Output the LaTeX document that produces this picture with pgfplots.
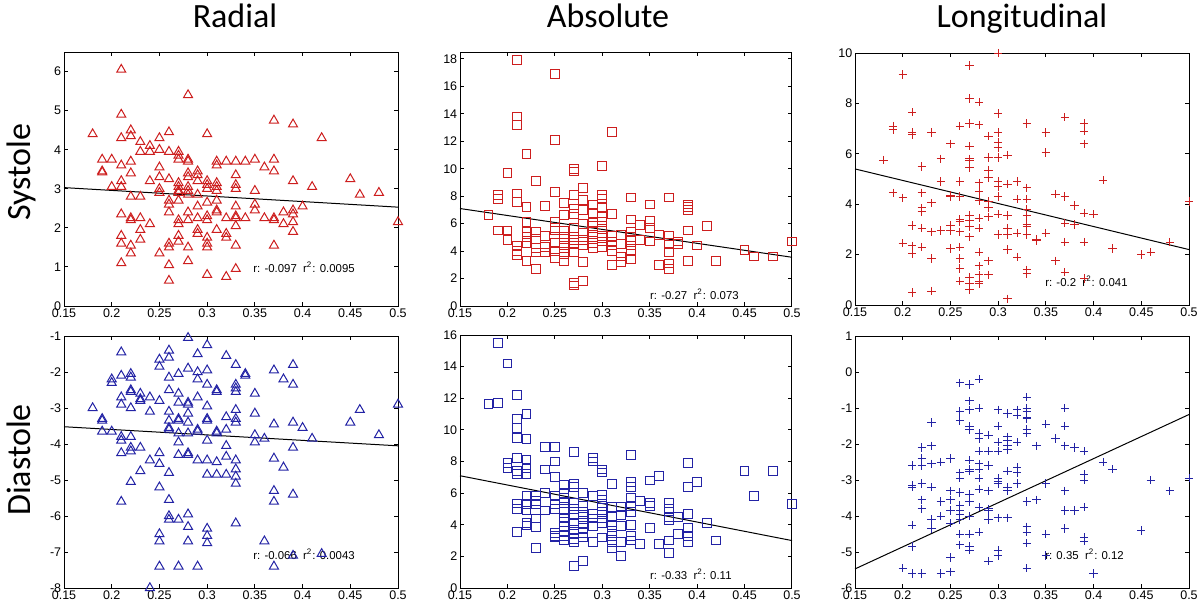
\documentclass[border=0pt]{standalone}
\usepackage{fontspec}
\setmainfont{Liberation Sans}
\newfontfamily\titlefont{Carlito}
\usepackage{pgfplots}
\pgfplotsset{compat=1.18}
\definecolor{mred}{RGB}{205,30,30}
\definecolor{mblue}{RGB}{35,35,165}
\pgfplotsset{
  panel/.style={
    scale only axis,
    clip=false,
    xmin=0.15, xmax=0.5,
    xtick={0.15,0.2,0.25,0.3,0.35,0.4,0.45,0.5},
    xticklabels={0.15,0.2,0.25,0.3,0.35,0.4,0.45,0.5},
    tick align=inside,
    xtick pos=both, ytick pos=both,
    major tick length=2pt,
    every tick/.style={black, line width=0.5pt},
    axis line style={black, line width=0.5pt},
    tick label style={font=\fontsize{6.25}{7.5}\selectfont, black},
    /pgf/number format/assume math mode=true,
    yticklabel style={inner sep=1.2pt},
    xticklabel style={inner sep=1.2pt},
  },
  redtri/.style={only marks, color=mred, mark=triangle, mark size=2.6pt, mark options={draw=mred, fill=none, line width=0.5pt}},
  redsq/.style={only marks, color=mred, mark=square, mark size=2.2pt, mark options={draw=mred, fill=none, line width=0.5pt}},
  redplus/.style={only marks, color=mred, mark=+, mark size=2.1pt, mark options={draw=mred, line width=0.5pt}},
  bluetri/.style={only marks, color=mblue, mark=triangle, mark size=2.6pt, mark options={draw=mblue, fill=none, line width=0.5pt}},
  bluesq/.style={only marks, color=mblue, mark=square, mark size=2.2pt, mark options={draw=mblue, fill=none, line width=0.5pt}},
  blueplus/.style={only marks, color=mblue, mark=+, mark size=2.1pt, mark options={draw=mblue, line width=0.5pt}},
  fit/.style={black, line width=0.5pt, no marks},
}
\newcommand{\ann}{\fontsize{5.7}{6.8}\selectfont}
\begin{document}
\begin{tikzpicture}
\useasboundingbox (0,0) rectangle (600pt,-303.5pt);
% titles
\node[anchor=base] at (117.5pt,-13.5pt) {\titlefont\fontsize{17}{20}\selectfont Radial};
\node[anchor=base] at (304pt,-13.5pt) {\titlefont\fontsize{17}{20}\selectfont Absolute};
\node[anchor=base] at (511pt,-13.5pt) {\titlefont\fontsize{17}{20}\selectfont Longitudinal};
\node[anchor=base, rotate=90] at (15pt,-86pt) {\titlefont\fontsize{17}{20}\selectfont Systole};
\node[anchor=base, rotate=90] at (15pt,-230pt) {\titlefont\fontsize{17}{20}\selectfont Diastole};

% ---------- Radial systole
\begin{axis}[panel, at={(32pt,-153pt)}, anchor=south west, width=167pt, height=127pt,
  ymin=0, ymax=6.5, ytick={0,1,2,3,4,5,6}]
\addplot[redtri] coordinates {
(0.18,4.4)
(0.19,3.75)(0.19,3.45)(0.19,3.42)
(0.2,3.75)(0.2,3.05)
(0.21,6.05)(0.21,4.9)(0.21,4.3)(0.21,3.6)(0.21,3.2)(0.21,3.05)(0.21,2.35)(0.21,1.8)(0.21,1.6)(0.21,1.1)
(0.22,4.5)(0.22,4.35)(0.22,3.7)(0.22,3.4)(0.22,2.8)(0.22,2.25)(0.22,2.2)(0.22,1.55)(0.22,1.35)
(0.23,4.2)(0.23,3.95)(0.23,2.8)(0.23,2.25)(0.23,1.95)(0.23,1.7)
(0.24,4.1)(0.24,3.95)(0.24,3.2)(0.24,2.1)
(0.25,4.3)(0.25,4.0)(0.25,3.55)(0.25,3.3)(0.25,3.0)(0.25,2.9)(0.25,1.35)
(0.26,4.45)(0.26,3.95)(0.26,3.25)(0.26,2.7)(0.26,2.6)(0.26,2.4)(0.26,1.6)(0.26,1.5)(0.26,1.05)(0.26,0.65)
(0.27,3.95)(0.27,3.85)(0.27,3.75)(0.27,3.15)(0.27,3.05)(0.27,2.95)(0.27,2.9)(0.27,2.7)(0.27,2.2)(0.27,2.1)(0.27,1.8)(0.27,1.65)
(0.28,5.4)(0.28,3.75)(0.28,3.7)(0.28,3.4)(0.28,3.3)(0.28,3.05)(0.28,2.95)(0.28,2.85)(0.28,2.4)(0.28,2.2)(0.28,1.5)(0.28,1.15)
(0.29,3.45)(0.29,3.35)(0.29,3.2)(0.29,2.85)(0.29,2.55)(0.29,2.25)(0.29,1.95)(0.29,1.85)
(0.3,4.4)(0.3,3.2)(0.3,3.1)(0.3,3.0)(0.3,2.65)(0.3,2.3)(0.3,2.2)(0.3,1.75)(0.3,1.6)(0.3,1.5)(0.3,0.8)
(0.31,3.7)(0.31,3.6)(0.31,3.15)(0.31,3.05)(0.31,2.95)(0.31,2.7)(0.31,2.45)(0.31,2.4)(0.31,1.95)
(0.32,3.7)(0.32,2.25)(0.32,1.85)(0.32,1.75)(0.32,0.75)
(0.33,3.7)(0.33,3.35)(0.33,3.1)(0.33,3.0)(0.33,2.55)(0.33,2.3)(0.33,2.25)(0.33,2.05)(0.33,1.55)(0.33,0.95)
(0.34,3.7)(0.34,2.25)
(0.35,3.75)(0.35,2.95)(0.35,2.6)(0.35,2.45)
(0.36,3.55)(0.36,2.25)
(0.37,4.75)(0.37,3.75)(0.37,3.45)(0.37,2.25)(0.37,2.2)(0.37,1.55)
(0.38,2.4)(0.38,2.1)
(0.39,4.65)(0.39,3.2)(0.39,2.45)(0.39,2.35)(0.39,2.15)(0.39,1.9)
(0.4,2.55)(0.41,3.05)(0.42,4.3)(0.45,3.25)(0.46,2.85)(0.48,2.9)(0.5,2.15)
};
\addplot[fit] coordinates {(0.15,3.03) (0.5,2.53)};
\node[anchor=west, inner sep=0pt] at (axis cs:0.348,1) {\ann r: -0.097\ \ r\textsuperscript{2}: 0.0095};
\end{axis}

% ---------- Absolute systole
\begin{axis}[panel, at={(230pt,-153pt)}, anchor=south west, width=166pt, height=127pt,
  ymin=0, ymax=18.5, ytick={0,2,4,6,8,10,12,14,16,18}]
\addplot[redsq] coordinates {
(0.18,6.6)
(0.19,8.1)(0.19,7.8)(0.19,5.5)
(0.2,9.7)(0.2,5.5)(0.2,4.8)
(0.21,17.9)(0.21,13.8)(0.21,13.2)(0.21,8.2)(0.21,7.6)(0.21,4.4)(0.21,4.0)(0.21,3.7)
(0.22,11.1)(0.22,7.2)(0.22,6.1)(0.22,5.4)(0.22,5.0)(0.22,4.6)(0.22,3.3)
(0.23,9.1)(0.23,5.4)(0.23,4.9)(0.23,4.2)(0.23,3.9)(0.23,2.7)
(0.24,7.3)(0.24,5.1)(0.24,4.3)(0.24,3.9)
(0.25,16.9)(0.25,12.1)(0.25,8.3)(0.25,6.1)(0.25,5.7)(0.25,5.5)(0.25,4.6)(0.25,4.0)(0.25,3.5)
(0.26,7.5)(0.26,6.6)(0.26,5.5)(0.26,5.0)(0.26,4.6)(0.26,4.2)(0.26,3.8)(0.26,3.3)
(0.27,10.0)(0.27,9.8)(0.27,8.1)(0.27,7.1)(0.27,6.7)(0.27,5.7)(0.27,5.0)(0.27,4.8)(0.27,4.6)(0.27,3.9)(0.27,1.7)(0.27,1.5)
(0.28,8.6)(0.28,7.7)(0.28,7.0)(0.28,6.0)(0.28,5.3)(0.28,4.8)(0.28,4.4)(0.28,3.2)(0.28,1.8)
(0.29,7.4)(0.29,6.7)(0.29,6.1)(0.29,5.8)(0.29,5.4)(0.29,5.0)(0.29,4.6)(0.29,4.2)
(0.3,10.2)(0.3,8.1)(0.3,7.8)(0.3,7.2)(0.3,6.5)(0.3,6.1)(0.3,5.6)(0.3,5.1)(0.3,4.7)(0.3,4.3)
(0.31,12.7)(0.31,6.7)(0.31,5.1)(0.31,4.7)(0.31,4.4)(0.31,4.0)(0.31,3.0)
(0.32,5.2)(0.32,4.5)(0.32,3.6)(0.32,3.2)
(0.33,7.9)(0.33,6.3)(0.33,5.4)(0.33,5.0)(0.33,4.8)(0.33,4.4)(0.33,4.0)(0.33,3.4)
(0.34,5.9)(0.34,4.8)
(0.35,7.4)(0.35,6.2)(0.35,5.7)(0.35,4.7)
(0.36,5.2)(0.36,3.0)
(0.37,7.9)(0.37,5.1)(0.37,4.6)(0.37,3.9)(0.37,3.1)(0.37,2.7)
(0.38,4.7)(0.38,4.5)
(0.39,7.4)(0.39,7.2)(0.39,7.0)(0.39,5.5)(0.39,3.3)
(0.4,4.4)(0.41,5.8)(0.42,3.3)(0.45,4.1)(0.46,3.6)(0.48,3.6)(0.5,4.7)
};
\addplot[fit] coordinates {(0.15,7.1) (0.5,3.55)};
\node[anchor=west, inner sep=0pt] at (axis cs:0.35,0.85) {\ann r: -0.27\ \ r\textsuperscript{2}: 0.073};
\end{axis}

% ---------- Longitudinal systole
\begin{axis}[panel, at={(427.5pt,-152.5pt)}, anchor=south west, width=167pt, height=126pt,
  ymin=0, ymax=10, ytick={0,2,4,6,8,10}]
\addplot[redplus] coordinates {
(0.18,5.75)
(0.19,7.1)(0.19,6.95)(0.19,4.45)
(0.2,9.15)(0.2,4.25)(0.2,2.45)
(0.21,7.65)(0.21,6.85)(0.21,6.75)(0.21,3.15)(0.21,2.35)(0.21,2.05)(0.21,0.5)
(0.22,5.5)(0.22,4.45)(0.22,3.85)(0.22,3.7)(0.22,3.05)(0.22,2.3)
(0.23,6.85)(0.23,4.05)(0.23,2.9)(0.23,1.85)(0.23,0.55)
(0.24,5.8)(0.24,4.9)(0.24,2.95)
(0.25,6.4)(0.25,4.3)(0.25,4.35)(0.25,3.15)(0.25,2.95)(0.25,2.25)
(0.26,7.1)(0.26,4.9)(0.26,4.3)(0.26,3.4)(0.26,3.3)(0.26,2.9)(0.26,2.3)(0.26,1.85)(0.26,1.45)(0.26,0.95)
(0.27,9.5)(0.27,8.2)(0.27,7.2)(0.27,6.3)(0.27,5.8)(0.27,5.75)(0.27,5.45)(0.27,3.55)(0.27,3.35)(0.27,3.1)(0.27,2.7)(0.27,1.1)(0.27,0.85)(0.27,0.6)
(0.28,8.05)(0.28,7.15)(0.28,4.85)(0.28,4.5)(0.28,4.15)(0.28,3.45)(0.28,3.05)(0.28,2.1)(0.28,1.55)(0.28,1.2)(0.28,0.95)(0.28,0.85)
(0.29,6.7)(0.29,5.85)(0.29,5.35)(0.29,5.05)(0.29,4.1)(0.29,3.85)(0.29,3.5)(0.29,1.75)(0.29,1.2)
(0.3,10.0)(0.3,7.6)(0.3,6.85)(0.3,6.45)(0.3,6.25)(0.3,5.85)(0.3,4.9)(0.3,4.7)(0.3,4.3)(0.3,3.6)(0.3,2.8)
(0.31,5.95)(0.31,4.8)(0.31,3.55)(0.31,3.05)(0.31,2.8)(0.31,2.2)(0.31,0.25)
(0.32,4.9)(0.32,4.2)(0.32,2.85)(0.32,1.9)
(0.33,7.2)(0.33,4.65)(0.33,4.2)(0.33,3.8)(0.33,3.55)(0.33,3.2)(0.33,3.1)(0.33,2.8)(0.33,1.4)(0.33,1.25)
(0.34,2.55)(0.34,2.6)
(0.35,6.85)(0.35,6.05)(0.35,2.85)
(0.36,4.4)(0.36,1.75)
(0.37,7.45)(0.37,4.3)(0.37,3.25)(0.37,2.5)(0.37,1.3)
(0.38,3.95)(0.38,3.2)
(0.39,7.2)(0.39,6.9)(0.39,6.4)(0.39,3.65)(0.39,2.5)(0.39,1.05)
(0.4,3.6)(0.41,4.95)(0.42,2.25)(0.45,2.0)(0.46,2.1)(0.48,2.5)(0.5,4.1)
};
\addplot[fit] coordinates {(0.15,5.4) (0.5,2.2)};
\node[anchor=west, inner sep=0pt] at (axis cs:0.349,0.95) {\ann r: -0.2\ \ r\textsuperscript{2}: 0.041};
\end{axis}

% ---------- Radial diastole
\begin{axis}[panel, at={(32pt,-294pt)}, anchor=south west, width=167pt, height=126pt,
  ymin=-8, ymax=-1, ytick={-8,-7,-6,-5,-4,-3,-2,-1}]
\addplot[bluetri] coordinates {
(0.18,-3.0)
(0.19,-3.3)(0.19,-3.35)(0.19,-3.65)
(0.2,-2.2)(0.2,-2.3)(0.2,-3.65)
(0.21,-1.45)(0.21,-2.1)(0.21,-2.7)(0.21,-2.9)(0.21,-3.8)(0.21,-3.9)(0.21,-4.25)(0.21,-5.6)
(0.22,-2.05)(0.22,-2.15)(0.22,-2.5)(0.22,-2.55)(0.22,-3.0)(0.22,-3.8)(0.22,-4.1)(0.22,-4.2)(0.22,-5.05)
(0.23,-2.6)(0.23,-2.75)(0.23,-2.8)(0.23,-4.1)(0.23,-4.75)
(0.24,-2.7)(0.24,-3.1)(0.24,-4.45)(0.24,-8.0)
(0.25,-1.65)(0.25,-1.85)(0.25,-2.8)(0.25,-4.25)(0.25,-4.55)(0.25,-5.2)(0.25,-6.5)(0.25,-6.7)(0.25,-7.4)
(0.26,-1.4)(0.26,-1.6)(0.26,-2.15)(0.26,-2.5)(0.26,-3.1)(0.26,-3.35)(0.26,-3.55)(0.26,-3.6)(0.26,-4.8)(0.26,-5.55)(0.26,-6.0)(0.26,-6.1)
(0.27,-2.05)(0.27,-2.6)(0.27,-2.85)(0.27,-3.3)(0.27,-3.35)(0.27,-3.7)(0.27,-3.95)(0.27,-4.3)(0.27,-6.1)(0.27,-7.4)
(0.28,-1.05)(0.28,-1.9)(0.28,-2.85)(0.28,-2.9)(0.28,-3.15)(0.28,-3.4)(0.28,-3.7)(0.28,-4.25)(0.28,-4.3)(0.28,-5.95)(0.28,-6.3)(0.28,-6.7)
(0.29,-1.5)(0.29,-2.0)(0.29,-2.2)(0.29,-2.7)(0.29,-3.6)(0.29,-3.65)(0.29,-4.45)(0.29,-7.4)
(0.3,-1.25)(0.3,-1.95)(0.3,-2.35)(0.3,-2.95)(0.3,-3.3)(0.3,-3.35)(0.3,-3.9)(0.3,-4.45)(0.3,-4.85)(0.3,-6.35)(0.3,-6.55)(0.3,-6.75)
(0.31,-2.5)(0.31,-2.55)(0.31,-3.65)(0.31,-3.7)(0.31,-4.5)(0.31,-4.85)
(0.32,-1.55)(0.32,-3.25)(0.32,-3.6)(0.32,-4.05)(0.32,-4.35)(0.32,-4.85)
(0.33,-1.8)(0.33,-2.35)(0.33,-2.45)(0.33,-2.55)(0.33,-3.05)(0.33,-3.3)(0.33,-3.4)(0.33,-4.45)(0.33,-4.7)(0.33,-4.9)(0.33,-5.1)(0.33,-6.2)
(0.34,-2.05)(0.34,-2.1)
(0.35,-2.6)(0.35,-3.15)(0.35,-3.75)(0.35,-3.95)
(0.36,-3.85)(0.36,-6.7)
(0.37,-1.95)(0.37,-3.45)(0.37,-4.4)(0.37,-5.3)(0.37,-5.6)(0.37,-7.4)
(0.38,-2.2)(0.38,-4.65)
(0.39,-1.8)(0.39,-2.35)(0.39,-3.4)(0.39,-4.1)(0.39,-5.4)(0.39,-7.1)
(0.4,-3.55)(0.41,-3.85)(0.42,-7.05)(0.45,-3.4)(0.46,-3.05)(0.48,-3.75)(0.5,-2.9)
};
\addplot[fit] coordinates {(0.15,-3.52) (0.5,-4.05)};
\node[anchor=west, inner sep=0pt] at (axis cs:0.348,-7.05) {\ann r: -0.066\ \ r\textsuperscript{2}: 0.0043};
\end{axis}

% ---------- Absolute diastole
\begin{axis}[panel, at={(230pt,-294pt)}, anchor=south west, width=166pt, height=126.5pt,
  ymin=0, ymax=16, ytick={0,2,4,6,8,10,12,14,16}]
\addplot[bluesq] coordinates {
(0.18,11.65)
(0.19,15.5)(0.19,11.7)
(0.2,14.2)(0.2,7.9)(0.2,7.6)
(0.21,12.2)(0.21,10.7)(0.21,10.1)(0.21,9.5)(0.21,8.2)(0.21,7.4)(0.21,7.2)(0.21,5.35)(0.21,5.0)(0.21,3.55)
(0.22,11.0)(0.22,9.4)(0.22,8.1)(0.22,7.6)(0.22,7.2)(0.22,5.8)(0.22,5.3)(0.22,4.9)(0.22,4.1)(0.22,3.95)
(0.23,5.8)(0.23,5.5)(0.23,5.3)(0.23,4.4)(0.23,3.85)(0.23,2.55)
(0.24,8.9)(0.24,7.5)(0.24,6.0)(0.24,4.9)
(0.25,8.9)(0.25,8.0)(0.25,7.0)(0.25,5.8)(0.25,5.3)(0.25,5.0)(0.25,3.5)(0.25,3.3)(0.25,3.2)
(0.26,6.5)(0.26,6.0)(0.26,5.7)(0.26,5.4)(0.26,5.0)(0.26,4.4)(0.26,4.2)(0.26,3.9)(0.26,3.6)(0.26,3.3)(0.26,3.0)
(0.27,8.6)(0.27,6.6)(0.27,6.4)(0.27,5.4)(0.27,5.0)(0.27,4.6)(0.27,4.1)(0.27,3.7)(0.27,3.4)(0.27,3.1)(0.27,2.9)(0.27,1.4)
(0.28,6.0)(0.28,5.2)(0.28,4.8)(0.28,4.5)(0.28,4.1)(0.28,3.8)(0.28,3.5)(0.28,3.2)(0.28,1.7)
(0.29,8.2)(0.29,8.0)(0.29,5.8)(0.29,4.7)(0.29,4.4)(0.29,3.9)(0.29,2.9)
(0.3,7.5)(0.3,7.3)(0.3,5.9)(0.3,5.6)(0.3,5.2)(0.3,4.8)(0.3,4.4)(0.3,4.1)(0.3,3.2)
(0.31,6.6)(0.31,5.1)(0.31,4.5)(0.31,4.0)(0.31,3.6)(0.31,3.3)(0.31,2.9)(0.31,2.5)
(0.32,5.1)(0.32,4.6)(0.32,3.9)(0.32,2.9)(0.32,2.0)
(0.33,8.4)(0.33,6.7)(0.33,6.4)(0.33,5.7)(0.33,5.2)(0.33,4.8)(0.33,4.0)(0.33,3.3)(0.33,3.0)
(0.34,5.5)(0.34,2.8)
(0.35,6.8)(0.35,5.4)(0.35,5.2)(0.35,3.8)
(0.36,7.1)(0.36,2.8)
(0.37,5.4)(0.37,5.0)(0.37,4.5)(0.37,4.3)(0.37,3.0)(0.37,2.2)
(0.38,4.5)(0.38,3.4)
(0.39,7.9)(0.39,6.4)(0.39,4.7)(0.39,3.8)(0.39,3.3)(0.39,2.9)
(0.4,6.7)(0.41,4.1)(0.42,3.0)(0.45,7.4)(0.46,5.8)(0.48,7.4)(0.5,5.3)
};
\addplot[fit] coordinates {(0.15,7.1) (0.5,3.0)};
\node[anchor=west, inner sep=0pt] at (axis cs:0.35,0.87) {\ann r: -0.33\ \ r\textsuperscript{2}: 0.11};
\end{axis}

% ---------- Longitudinal diastole
\begin{axis}[panel, at={(427.5pt,-294pt)}, anchor=south west, width=167pt, height=126pt,
  ymin=-6, ymax=1, ytick={-6,-5,-4,-3,-2,-1,0,1}]
\addplot[blueplus] coordinates {
(0.2,-5.45)
(0.21,-2.6)(0.21,-3.15)(0.21,-3.2)(0.21,-4.25)(0.21,-4.85)(0.21,-5.6)
(0.22,-2.1)(0.22,-2.4)(0.22,-2.6)(0.22,-3.1)(0.22,-3.55)(0.22,-3.8)(0.22,-5.6)
(0.23,-1.4)(0.23,-2.05)(0.23,-2.55)(0.23,-3.2)(0.23,-4.1)(0.23,-4.35)
(0.24,-2.5)(0.24,-3.6)(0.24,-4.0)(0.24,-5.6)
(0.25,-2.4)(0.25,-3.3)(0.25,-3.55)(0.25,-3.85)(0.25,-4.2)(0.25,-5.15)(0.25,-5.55)
(0.26,-0.3)(0.26,-1.1)(0.26,-1.35)(0.26,-2.8)(0.26,-2.95)(0.26,-3.35)(0.26,-3.7)(0.26,-3.85)(0.26,-3.95)(0.26,-4.1)(0.26,-4.5)(0.26,-4.8)
(0.27,-0.35)(0.27,-0.8)(0.27,-1.05)(0.27,-1.5)(0.27,-1.6)(0.27,-2.45)(0.27,-2.7)(0.27,-2.75)(0.27,-3.4)(0.27,-3.6)(0.27,-4.0)(0.27,-4.5)(0.27,-4.85)(0.27,-4.95)
(0.28,-0.2)(0.28,-1.0)(0.28,-1.7)(0.28,-1.85)(0.28,-2.2)(0.28,-2.55)(0.28,-2.7)(0.28,-2.95)(0.28,-3.25)(0.28,-3.75)(0.28,-4.45)
(0.29,-1.75)(0.29,-2.2)(0.29,-2.6)(0.29,-3.3)(0.29,-3.8)(0.29,-3.85)(0.29,-4.1)(0.29,-5.25)
(0.3,-1.05)(0.3,-1.5)(0.3,-1.95)(0.3,-2.2)(0.3,-2.95)(0.3,-3.05)(0.3,-3.1)(0.3,-4.05)(0.3,-4.95)(0.3,-5.1)
(0.31,-1.15)(0.31,-1.8)(0.31,-1.9)(0.31,-2.05)(0.31,-2.15)(0.31,-2.75)(0.31,-3.2)(0.31,-3.3)(0.31,-4.05)
(0.32,-1.05)(0.32,-1.2)(0.32,-1.95)(0.32,-2.65)(0.32,-2.8)(0.32,-3.1)
(0.33,-0.7)(0.33,-1.0)(0.33,-1.1)(0.33,-1.25)(0.33,-1.3)(0.33,-1.6)(0.33,-1.7)(0.33,-3.6)(0.33,-4.3)(0.33,-4.45)(0.33,-4.75)(0.33,-5.45)
(0.34,-2.05)(0.34,-3.55)
(0.35,-1.45)(0.35,-3.1)(0.35,-4.5)(0.35,-5.1)
(0.36,-1.85)
(0.37,-1.0)(0.37,-1.5)(0.37,-2.05)(0.37,-3.3)(0.37,-3.85)(0.37,-4.35)
(0.38,-2.1)(0.38,-3.85)
(0.39,-2.2)(0.39,-2.85)(0.39,-3.0)(0.39,-3.75)(0.39,-4.6)(0.39,-4.7)
(0.4,-5.6)(0.41,-2.5)(0.42,-2.7)(0.45,-4.4)(0.46,-3.0)(0.48,-3.3)(0.5,-2.95)
};
\addplot[fit] coordinates {(0.15,-5.47) (0.5,-1.18)};
\node[anchor=west, inner sep=0pt] at (axis cs:0.349,-5.07) {\ann r: 0.35\ \ r\textsuperscript{2}: 0.12};
\end{axis}
\end{tikzpicture}
\end{document}
